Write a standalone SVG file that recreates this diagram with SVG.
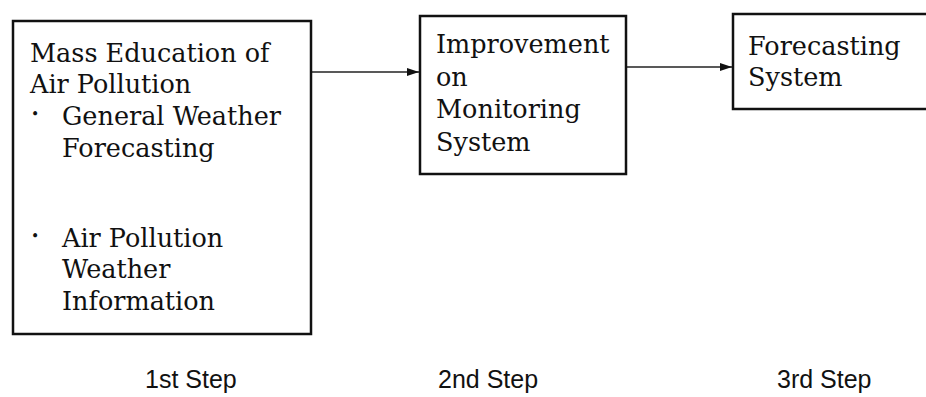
<svg xmlns="http://www.w3.org/2000/svg" width="926" height="397" viewBox="0 0 926 397">
  <defs>
    <marker id="arrow" viewBox="0 0 12 8" refX="12" refY="4" markerWidth="12" markerHeight="8" markerUnits="userSpaceOnUse" orient="auto">
      <path d="M0,0 L12,4 L0,8 Z" fill="#111"/>
    </marker>
    <style>
      .box { fill: #fff; stroke: #111; stroke-width: 2.5; }
      .txt { font-family: "DejaVu Serif", "Liberation Serif", serif; font-size: 25.5px; fill: #111; }
      .dot { font-family: "DejaVu Serif", "Liberation Serif", serif; font-size: 14px; fill: #111; }
      .step { font-family: "Liberation Sans", "DejaVu Sans", sans-serif; font-size: 25px; fill: #111; }
      .conn { stroke: #222; stroke-width: 1.5; fill: none; }
    </style>
  </defs>
  <rect width="926" height="397" fill="#fff"/>

  <g id="connectors">
    <line class="conn" x1="311" y1="72" x2="419" y2="72" marker-end="url(#arrow)"/>
    <line class="conn" x1="626" y1="67" x2="732" y2="67" marker-end="url(#arrow)"/>
  </g>

  <g id="step1">
    <rect class="box" x="13" y="21" width="298" height="313"/>
    <text class="txt" x="30" y="62">Mass Education of</text>
    <text class="txt" x="30" y="93">Air Pollution</text>
    <text class="dot" x="31" y="119">•</text>
    <text class="txt" x="62" y="125">General Weather</text>
    <text class="txt" x="62" y="157">Forecasting</text>
    <text class="dot" x="31" y="241">•</text>
    <text class="txt" x="62" y="247">Air Pollution</text>
    <text class="txt" x="62" y="278">Weather</text>
    <text class="txt" x="62" y="310">Information</text>
  </g>

  <g id="step2">
    <rect class="box" x="420" y="16" width="206" height="158"/>
    <text class="txt" x="436" y="53">Improvement</text>
    <text class="txt" x="436" y="86">on</text>
    <text class="txt" x="436" y="118">Monitoring</text>
    <text class="txt" x="436" y="151">System</text>
  </g>

  <g id="step3">
    <rect class="box" x="733" y="14" width="200" height="95"/>
    <text class="txt" x="748" y="55">Forecasting</text>
    <text class="txt" x="748" y="86">System</text>
  </g>

  <g id="labels">
    <text class="step" x="145" y="388">1st Step</text>
    <text class="step" x="438" y="388">2nd Step</text>
    <text class="step" x="777" y="388">3rd Step</text>
  </g>
</svg>
